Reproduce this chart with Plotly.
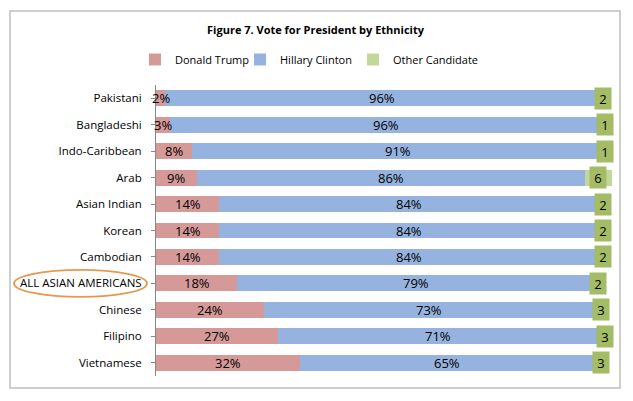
import plotly.graph_objects as go

categories = ["Pakistani", "Bangladeshi", "Indo-Caribbean", "Arab", "Asian Indian",
              "Korean", "Cambodian", "ALL ASIAN AMERICANS", "Chinese", "Filipino", "Vietnamese"]
trump = [2, 3, 8, 9, 14, 14, 14, 18, 24, 27, 32]
clinton = [96, 96, 91, 86, 84, 84, 84, 79, 73, 71, 65]
other = [2, 1, 1, 6, 2, 2, 2, 2, 3, 3, 3]
series_names = ["Donald Trump", "Hillary Clinton", "Other Candidate"]
title_text = "Figure 7. Vote for President by Ethnicity"
highlight = "ALL ASIAN AMERICANS"

FONT = "Open Sans"
C_TRUMP = "#D59A98"
C_CLINTON = "#95B3DE"
C_OTHER = "#C4D79B"
C_OTHER_LBL = "#A3BC65"

W, H = 633, 401
L, R, T, B = 156, 21, 85, 25
pw, ph = W - L - R, H - T - B

def px_x(x):
    return (x - L) / pw

def px_y(y):
    return (H - B - y) / ph

# legend text start positions (px) for each entry
legend_text_x = [175, 280, 393]
legend_keys = ["legend", "legend2", "legend3"]

fig = go.Figure()
for name, vals, col, lg in zip(series_names, [trump, clinton, other],
                               [C_TRUMP, C_CLINTON, C_OTHER], legend_keys):
    fig.add_trace(go.Bar(y=categories, x=vals, name=name, orientation="h",
                         marker=dict(color=col, line=dict(width=0)),
                         legend=lg, showlegend=True, hoverinfo="x+y"))

annotations = []
for i, cat in enumerate(categories):
    annotations.append(dict(x=trump[i] / 2, y=cat, xref="x", yref="y", text=f"{trump[i]}%",
                            showarrow=False, font=dict(family=FONT, size=13, color="black")))
    annotations.append(dict(x=trump[i] + clinton[i] / 2, y=cat, xref="x", yref="y",
                            text=f"{clinton[i]}%", showarrow=False,
                            font=dict(family=FONT, size=13, color="black")))
    annotations.append(dict(x=trump[i] + clinton[i] + other[i] / 2, y=cat, xref="x", yref="y",
                            text=str(other[i]), showarrow=False, bgcolor=C_OTHER_LBL,
                            width=16, height=21, borderpad=0,
                            font=dict(family=FONT, size=13, color="black")))

shapes = [
    dict(type="rect", xref="paper", yref="paper", x0=px_x(10), x1=px_x(620),
         y0=px_y(388), y1=px_y(11), line=dict(color="#BFBFBF", width=1.5), layer="below"),
]
hi = categories.index(highlight)
shapes.append(dict(type="circle", xref="paper", yref="y", x0=px_x(14), x1=px_x(147),
                   y0=hi - 0.51, y1=hi + 0.51, line=dict(color="#E8974E", width=1.8)))

legend_common = dict(orientation="h", xref="container", xanchor="left",
                     y=1 - 59.5 / H, yref="container", yanchor="middle",
                     font=dict(family=FONT, size=11, color="black"),
                     itemwidth=30, bgcolor="rgba(0,0,0,0)")

fig.update_layout(
    width=W, height=H,
    showlegend=True,
    margin=dict(l=L, r=R, t=T, b=B, autoexpand=False),
    paper_bgcolor="white", plot_bgcolor="white",
    barmode="stack", bargap=0.4,
    font=dict(family=FONT, size=11.5, color="black"),
    title=dict(text=f"<b>{title_text}</b>", x=315.5 / W, xref="container", xanchor="center",
               y=1 - 30.5 / H, yref="container", yanchor="middle",
               font=dict(family=FONT, size=11, color="black")),
    legend=dict(x=(legend_text_x[0] - 40) / W, **legend_common),
    legend2=dict(x=(legend_text_x[1] - 40) / W, **legend_common),
    legend3=dict(x=(legend_text_x[2] - 40) / W, **legend_common),
    xaxis=dict(range=[0, 101], showgrid=False, showticklabels=False, zeroline=False,
               showline=False, ticks="", fixedrange=True),
    yaxis=dict(categoryorder="array", categoryarray=categories, autorange="reversed",
               showgrid=False, showline=True, linecolor="#868686", linewidth=1,
               ticks="outside", ticklen=4, tickcolor="#868686", automargin=False,
               tickfont=dict(family=FONT, size=11.5, color="black"), ticklabelstandoff=7),
    annotations=annotations,
    shapes=shapes,
)

fig.write_html("out.html",
               config={"displayModeBar": False},
               post_script="document.body.style.margin='0';document.body.style.overflow='hidden';")
